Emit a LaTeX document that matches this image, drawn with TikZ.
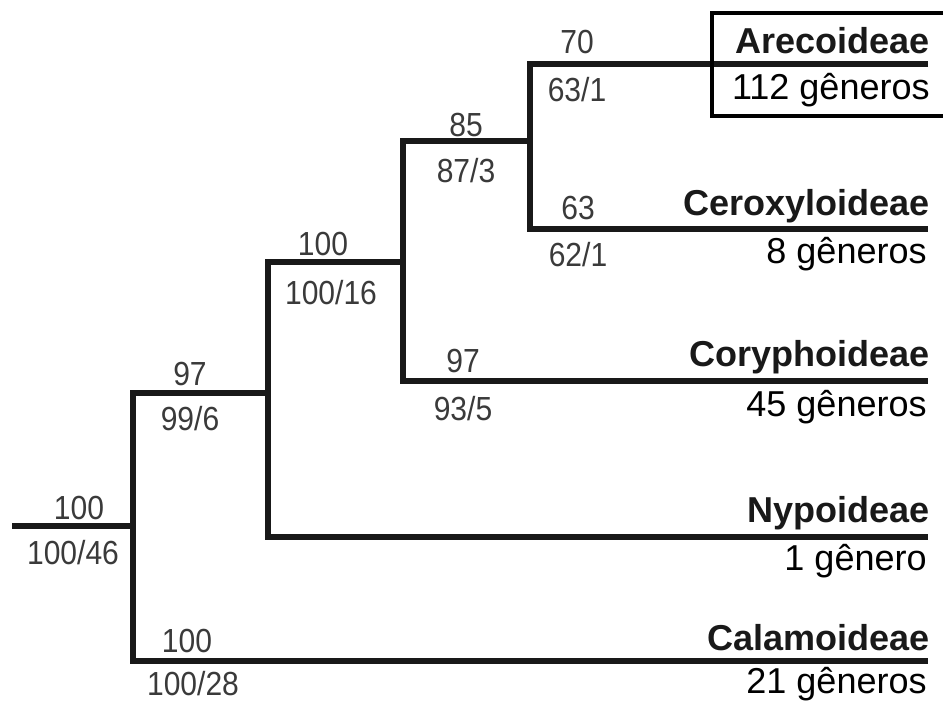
\documentclass[tikz,border=0pt]{standalone}
\usepackage{fontspec}
\setmainfont{Liberation Sans}
\usepackage{xcolor}
\definecolor{tcgray}{RGB}{58,58,58}
\definecolor{tcdark}{RGB}{25,25,25}
\usetikzlibrary{positioning}

\tikzset{
  branch/.style={line width=3.8pt, tcdark},
  support/.style={font=\fontsize{19}{21}\selectfont, tcgray, inner sep=0pt, xscale=0.9},
  taxon/.style={font=\fontsize{20.5}{22}\selectfont\bfseries, tcdark, anchor=east, inner sep=0pt},
  genera/.style={font=\fontsize{20.5}{22}\selectfont, black, anchor=east, inner sep=0pt},
  hilite/.style={line width=2.4pt, black}
}

\begin{document}
\begin{tikzpicture}[x=0.02cm, y=-0.02cm]
  \useasboundingbox (0,0) rectangle (943,702);

  % junctions and tips
  \coordinate (start) at (12,526);
  \coordinate (j0) at (133,526);
  \coordinate (j1) at (268,393);
  \coordinate (j2) at (403,262);
  \coordinate (j3) at (530,141);
  \coordinate (tAre) at (928,64);
  \coordinate (tCer) at (928,229);
  \coordinate (tCor) at (928,381);
  \coordinate (tNyp) at (928,537);
  \coordinate (tCal) at (928,661);

  % tree
  \draw[branch] (start) -- (j0);
  \draw[branch] (j1) -| (j0) |- (tCal);
  \draw[branch] (j2) -| (j1) |- (tNyp);
  \draw[branch] (j3) -| (j2) |- (tCor);
  \draw[branch] (tAre) -| (j3) |- (tCer);

  % support values
  \node[support] (s0a) at (79,508) {100};
  \node[support] (s0b) at (73,553) {100/46};
  \node[support] (s1a) at (190,374) {97};
  \node[support] (s1b) at (190,419) {99/6};
  \node[support] (s2a) at (323,244) {100};
  \node[support] (s2b) at (331,293) {100/16};
  \node[support] (s3a) at (466,125) {85};
  \node[support] (s3b) at (466,171) {87/3};
  \node[support] (sAa) at (577,42) {70};
  \node[support] (sAb) at (577,90) {63/1};
  \node[support] (sCa) at (578,208) {63};
  \node[support] (sCb) at (578,255) {62/1};
  \node[support] (sRa) at (463,361) {97};
  \node[support] (sRb) at (463,409) {93/5};
  \node[support] (sLa) at (187,641) {100};
  \node[support] (sLb) at (193,684) {100/28};

  % subfamilies
  \node[taxon] (are) at (930,41) {Arecoideae};
  \node[genera] (areg) at (930,90) {112 gêneros};
  \node[taxon] (cer) at (930,206) {Ceroxyloideae};
  \node[genera] (cerg) at (927,254) {8 gêneros};
  \node[taxon] (cor) at (930,357) {Coryphoideae};
  \node[genera] (corg) at (927,407) {45 gêneros};
  \node[taxon] (nyp) at (930,513) {Nypoideae};
  \node[genera] (nypg) at (927,561) {1 gênero};
  \node[taxon] (cal) at (930,638) {Calamoideae};
  \node[genera] (calg) at (927,684) {21 gêneros};

  % highlight box
  \draw[hilite] (950,13) -- (712,13) -- (712,116) -- (950,116);
\end{tikzpicture}
\end{document}
